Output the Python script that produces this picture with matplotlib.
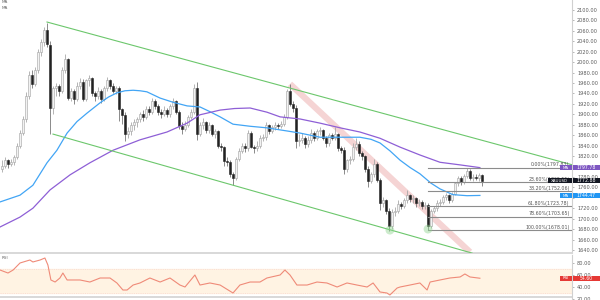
import matplotlib
matplotlib.use("Agg")
import matplotlib.pyplot as plt
from matplotlib.patches import Rectangle
import numpy as np

# ---------------- data ----------------
opens = [1795,1800,1812,1805,1808,1818,1840,1865,1890,1935,
 1975,1958,1985,2020,2038,2062,2032,1912,1950,1955,
 1945,1985,2005,1932,1945,1930,1955,1962,1930,1965,
 1970,1940,1935,1945,1930,1950,1965,1955,1945,1950,
 1910,1898,1862,1868,1880,1885,1890,1900,1895,1910,
 1905,1925,1915,1905,1900,1908,1900,1915,1925,1905,
 1878,1872,1880,1895,1905,1950,1862,1880,1885,1870,
 1880,1862,1868,1840,1838,1810,1808,1785,1778,1815,
 1830,1840,1835,1865,1838,1835,1840,1855,1856,1880,
 1868,1875,1880,1878,1882,1895,1945,1920,1912,1848,
 1850,1855,1843,1850,1865,1855,1868,1870,1855,1845,
 1860,1855,1862,1835,1832,1795,1812,1815,1838,1843,
 1825,1820,1795,1773,1785,1805,1775,1730,1735,1715,
 1685,1712,1715,1728,1725,1735,1745,1738,1740,1730,
 1732,1725,1726,1685,1715,1720,1730,1732,1742,1745,
 1735,1748,1768,1778,1770,1782,1792,1778,1780,1778,
 1784]
highs = [1812,1818,1815,1814,1822,1845,1870,1897,1942,1982,
 1984,1990,2025,2045,2068,2075,2040,1955,1960,1958,
 1990,2015,2008,1950,1948,1962,1970,1968,1968,1975,
 1972,1945,1952,1948,1955,1972,1968,1960,1955,1955,
 1912,1905,1875,1885,1890,1895,1905,1908,1915,1915,
 1932,1930,1920,1910,1915,1912,1920,1932,1928,1908,
 1885,1888,1898,1910,1958,1962,1885,1892,1888,1885,
 1882,1872,1870,1845,1840,1818,1812,1790,1818,1835,
 1845,1845,1870,1868,1842,1848,1860,1862,1885,1882,
 1880,1885,1884,1888,1900,1948,1958,1925,1918,1862,
 1865,1858,1858,1872,1868,1872,1875,1872,1858,1865,
 1865,1875,1865,1840,1838,1815,1820,1845,1855,1848,
 1830,1822,1800,1790,1815,1808,1778,1742,1738,1720,
 1718,1722,1735,1732,1740,1755,1748,1745,1742,1738,
 1735,1732,1730,1718,1725,1735,1738,1745,1750,1748,
 1752,1770,1782,1782,1786,1797.8,1795,1785,1786,1788,
 1786]
lows = [1790,1797,1798,1800,1803,1815,1836,1860,1885,1930,
 1950,1955,1980,2012,2030,2028,1863,1900,1935,1935,
 1940,1980,1928,1925,1920,1925,1948,1925,1925,1955,
 1935,1925,1930,1922,1925,1945,1948,1940,1938,1888,
 1882,1848,1855,1860,1870,1875,1885,1888,1890,1898,
 1900,1910,1898,1892,1896,1895,1895,1910,1900,1872,
 1862,1868,1875,1890,1900,1850,1858,1872,1865,1865,
 1858,1855,1835,1830,1800,1800,1780,1764,1775,1810,
 1825,1828,1830,1835,1825,1830,1836,1848,1850,1862,
 1865,1870,1872,1874,1878,1890,1915,1905,1835,1840,
 1845,1835,1838,1845,1848,1850,1860,1850,1838,1840,
 1850,1850,1830,1825,1785,1790,1805,1810,1832,1820,
 1812,1790,1760,1768,1780,1770,1717,1722,1708,1677,
 1680,1705,1710,1718,1720,1730,1732,1730,1722,1725,
 1718,1718,1678,1682,1710,1715,1725,1728,1735,1730,
 1732,1745,1762,1765,1766,1778,1775,1772,1774,1772,
 1763]
closes = [1800,1812,1805,1808,1818,1840,1865,1890,1935,1975,
 1958,1985,2020,2038,2062,2035,1912,1950,1955,1945,
 1985,2005,1932,1945,1930,1955,1962,1930,1965,1970,
 1940,1935,1945,1930,1950,1965,1955,1945,1950,1910,
 1898,1862,1868,1880,1885,1890,1900,1895,1910,1905,
 1925,1915,1905,1900,1908,1900,1915,1925,1905,1878,
 1872,1880,1895,1905,1950,1862,1880,1885,1870,1880,
 1862,1868,1840,1838,1810,1808,1785,1778,1815,1830,
 1840,1835,1865,1838,1835,1840,1855,1856,1880,1868,
 1875,1880,1878,1882,1895,1945,1920,1912,1848,1850,
 1855,1843,1850,1865,1855,1868,1870,1855,1845,1860,
 1855,1862,1835,1832,1795,1812,1815,1838,1843,1825,
 1820,1795,1773,1785,1805,1775,1730,1735,1715,1685,
 1712,1715,1728,1725,1735,1745,1738,1740,1730,1732,
 1725,1726,1685,1715,1720,1730,1732,1742,1745,1735,
 1748,1768,1778,1770,1782,1792,1778,1780,1778,1784,
 1772.88]

ma_fast_idx = [-0.67, 6, 10.3, 15, 18.3, 21.7, 25, 28.3, 32.7, 35.5, 38.3, 41, 43.7, 46, 48.3, 52.7, 57,
               61.7, 66, 69.3, 72.7, 77, 82.7, 88.3, 95, 99.3, 106, 112.7, 119.3, 123, 126, 129.3,
               132.7, 136, 139.3, 143, 146, 150.3, 155, 159.3]
ma_fast_val = [1732, 1745, 1764, 1807, 1831, 1864, 1886, 1902, 1922, 1933, 1941, 1945, 1946, 1945, 1943,
               1931, 1923, 1916, 1914, 1905, 1895, 1881, 1877, 1874, 1868, 1864, 1856, 1856, 1856, 1852,
               1845, 1830, 1812, 1798, 1786, 1768, 1757, 1746, 1744, 1744.47]

ma_slow_idx = [-0.67, 6, 10.3, 16, 22.7, 29.3, 37, 46, 55, 61.7, 66, 72.7, 77.5, 82.7, 88.3, 92.7, 99.3,
               106, 112.7, 119.3, 126, 132.7, 139.3, 146, 152.7, 159.3]
ma_slow_val = [1684, 1703, 1720, 1755, 1784, 1807, 1831, 1851, 1866, 1883, 1899, 1908, 1911, 1912, 1904,
               1895, 1891, 1883, 1874, 1866, 1854, 1837, 1822, 1808, 1803, 1797.78]

rsi_idx = [-0.67, 2, 3.7, 6, 9.3, 10.3, 12.7, 14.3, 15.3, 16.3, 17.7, 19.3, 20.3, 21.7, 26, 29.3, 32.7, 36,
           38.3, 40.3, 41.7, 43.7, 46, 49.3, 52.7, 56, 59.3, 61, 64.3, 66, 69.3, 72.7, 77, 79.3, 82.7, 86,
           88.3, 92.7, 94.3, 96, 98.3, 101.7, 105, 108.3, 111.7, 115, 118.3, 121.7, 123.7, 126, 128.3,
           129.3, 131.7, 132.7, 136, 139.3, 141.7, 142.7, 146, 149.3, 152.7, 154.3, 156, 159.3]
rsi_val = [68.3, 63.3, 68.3, 80, 85, 81.7, 85, 88.3, 76.7, 51.7, 48.3, 55, 63.3, 51.7, 51.7, 48.3, 55, 55,
           46.7, 35, 35, 43.3, 46.7, 55, 48.3, 55, 43.3, 40, 60, 43.3, 46.7, 43.3, 30, 43.3, 48.3, 48.3,
           55, 60, 68.3, 60, 43.3, 43.3, 48.3, 46.7, 40, 46.7, 43.3, 40, 46.7, 31.7, 30,
           26.7, 38.3, 40, 43.3, 46.7, 35, 48.3, 51.7, 55, 56.7, 61.7, 56.7, 54.6]

fib_pct = ["0.00%", "23.60%", "38.20%", "61.80%", "78.60%", "100.00%"]
fib_val = [1797.83, 1769.55, 1752.06, 1723.78, 1703.65, 1678.01]
fib_start = 142

upper_channel = ([15, 190.3], [2076.7, 1802.8])
lower_channel = ([17, 156.7], [1862, 1634])
pink_line = ([96, 156], [1958, 1636])
touch_idx = [129.3, 142]
touch_val = [1678, 1680]

price_ticks = list(range(1640, 2101, 20))
hidden_price_ticks = [1740, 1800]   # covered by the MA tags in the reference
rsi_ticks = [20, 40, 60, 80]

last_price = 1772.88
ma_slow_last = 1797.78
ma_fast_last = 1744.47
rsi_last = 54.60

# ---------------- figure ----------------
W, H = 600, 300
fig = plt.figure(figsize=(6, 3), dpi=100)
fig.patch.set_facecolor("white")

AX_R = 572
ax = fig.add_axes([0, (H - 253) / H, AX_R / W, 253 / H])
rx = fig.add_axes([0, 0, AX_R / W, 45 / H])

xmin, xmax = -0.667, 190
ax.set_xlim(xmin, xmax)
rx.set_xlim(xmin, xmax)
ax.set_ylim(1634.2, 2118.9)
rx.set_ylim(18.33, 93.33)

idx = np.arange(len(closes))
o = np.array(opens); c = np.array(closes); h = np.array(highs); l = np.array(lows)
up = c >= o

# wicks
ax.vlines(idx[up], l[up], h[up], color="#a8a8a8", lw=0.6, zorder=2)
ax.vlines(idx[~up], l[~up], h[~up], color="#777777", lw=0.6, zorder=2)
# bodies
ax.bar(idx[up], np.maximum(c[up] - o[up], 0.8), bottom=o[up], width=0.62,
       color="#f2f2f2", edgecolor="#a0a0a0", linewidth=0.4, zorder=3)
ax.bar(idx[~up], np.maximum(o[~up] - c[~up], 0.8), bottom=c[~up], width=0.62,
       color="#222222", edgecolor="#222222", linewidth=0.4, zorder=3)

# moving averages
ax.plot(ma_fast_idx, ma_fast_val, color="#42a5f5", lw=0.9, zorder=4)
ax.plot(ma_slow_idx, ma_slow_val, color="#8e5fd6", lw=0.9, zorder=4)

# channel
ax.plot(*upper_channel, color="#6cc76c", lw=0.8, zorder=5)
ax.plot(*lower_channel, color="#6cc76c", lw=0.8, zorder=5)
# pink trend band
ax.plot(*pink_line, color="#eaa0a0", lw=4.5, alpha=0.45, solid_capstyle="butt", zorder=1)

# touch circles
ax.scatter(touch_idx, touch_val, s=40, color="#8fd48f", alpha=0.45, edgecolors="none", zorder=6)

# fib levels
for pct, v in zip(fib_pct, fib_val):
    ax.plot([fib_start, xmax], [v, v], color="#8c8c8c", lw=0.8, zorder=5)
    ax.text(189.2, v + 1.2, f"{pct}({v:.2f})", fontsize=3.4, color="#555555",
            ha="right", va="bottom", zorder=6)

# axes styling
for a in (ax, rx):
    a.set_facecolor("white")
    for s in ("top", "left"):
        a.spines[s].set_visible(False)
    a.spines["right"].set_color("#d0d0d0")
    a.spines["right"].set_linewidth(0.8)
    a.set_xticks([])
    a.yaxis.tick_right()
    a.tick_params(axis="y", length=1.6, width=0.5, color="#9a9a9a", pad=2,
                  labelsize=3.6, labelcolor="#5a5a5a")
ax.spines["bottom"].set_color("#d8d8d8")
ax.spines["bottom"].set_linewidth(1.4)
rx.spines["bottom"].set_visible(False)

ax.set_yticks(price_ticks)
ax.set_yticklabels(["" if t in hidden_price_ticks else f"{t:.2f}" for t in price_ticks])
rx.set_yticks(rsi_ticks)
rx.set_yticklabels([f"{t:.2f}" for t in rsi_ticks])

# RSI panel
rx.axhspan(30, 70, color="#fff3e3", zorder=0)
rx.axhline(70, color="#f7cfc8", lw=0.4, ls=(0, (2, 2)), zorder=1)
rx.axhline(30, color="#f7cfc8", lw=0.4, ls=(0, (2, 2)), zorder=1)
rx.plot(rsi_idx, rsi_val, color="#ef8a78", lw=0.8, zorder=3)
rx.axhline(22.5, color="#d8d8d8", lw=1.4, zorder=2)

# overlay (pixel coordinates)
ov = fig.add_axes([0, 0, 1, 1], zorder=10)
ov.set_xlim(0, W)
ov.set_ylim(H, 0)
ov.axis("off")
ov.patch.set_alpha(0)

def price_y(p):
    return 156 - (p - 1820) * 0.522

def rsi_y(v):
    return 263 + (80 - v) * 0.6

def tag(y, name, value, color, name_x0):
    hgt = 5.2
    ov.add_patch(Rectangle((name_x0, y - hgt / 2), 571.5 - name_x0, hgt, color=color, lw=0))
    ov.add_patch(Rectangle((572.5, y - hgt / 2), 27.5, hgt, color=color, lw=0))
    ov.text((name_x0 + 571.5) / 2, y + 0.2, name, fontsize=2.9, color="white", ha="center", va="center")
    ov.text(586, y + 0.2, value, fontsize=3.3, color="white", ha="center", va="center")

tag(price_y(ma_slow_last), "MA", f"{ma_slow_last:.2f}", "#7e57c2", 560)
tag(price_y(last_price), "XAUUSD", f"{last_price:.2f}", "#131722", 548)
tag(price_y(ma_fast_last), "MA", f"{ma_fast_last:.2f}", "#2196f3", 560)
tag(rsi_y(rsi_last), "RSI", f"{rsi_last:.2f}", "#e53935", 560)

ov.text(2, 2, "MA", fontsize=3, color="#666666", ha="left", va="center")
ov.text(2, 8, "MA", fontsize=3, color="#666666", ha="left", va="center")
ov.text(2, 258, "RSI", fontsize=3, color="#666666", ha="left", va="center")

fig.savefig("out.png", dpi=100)
